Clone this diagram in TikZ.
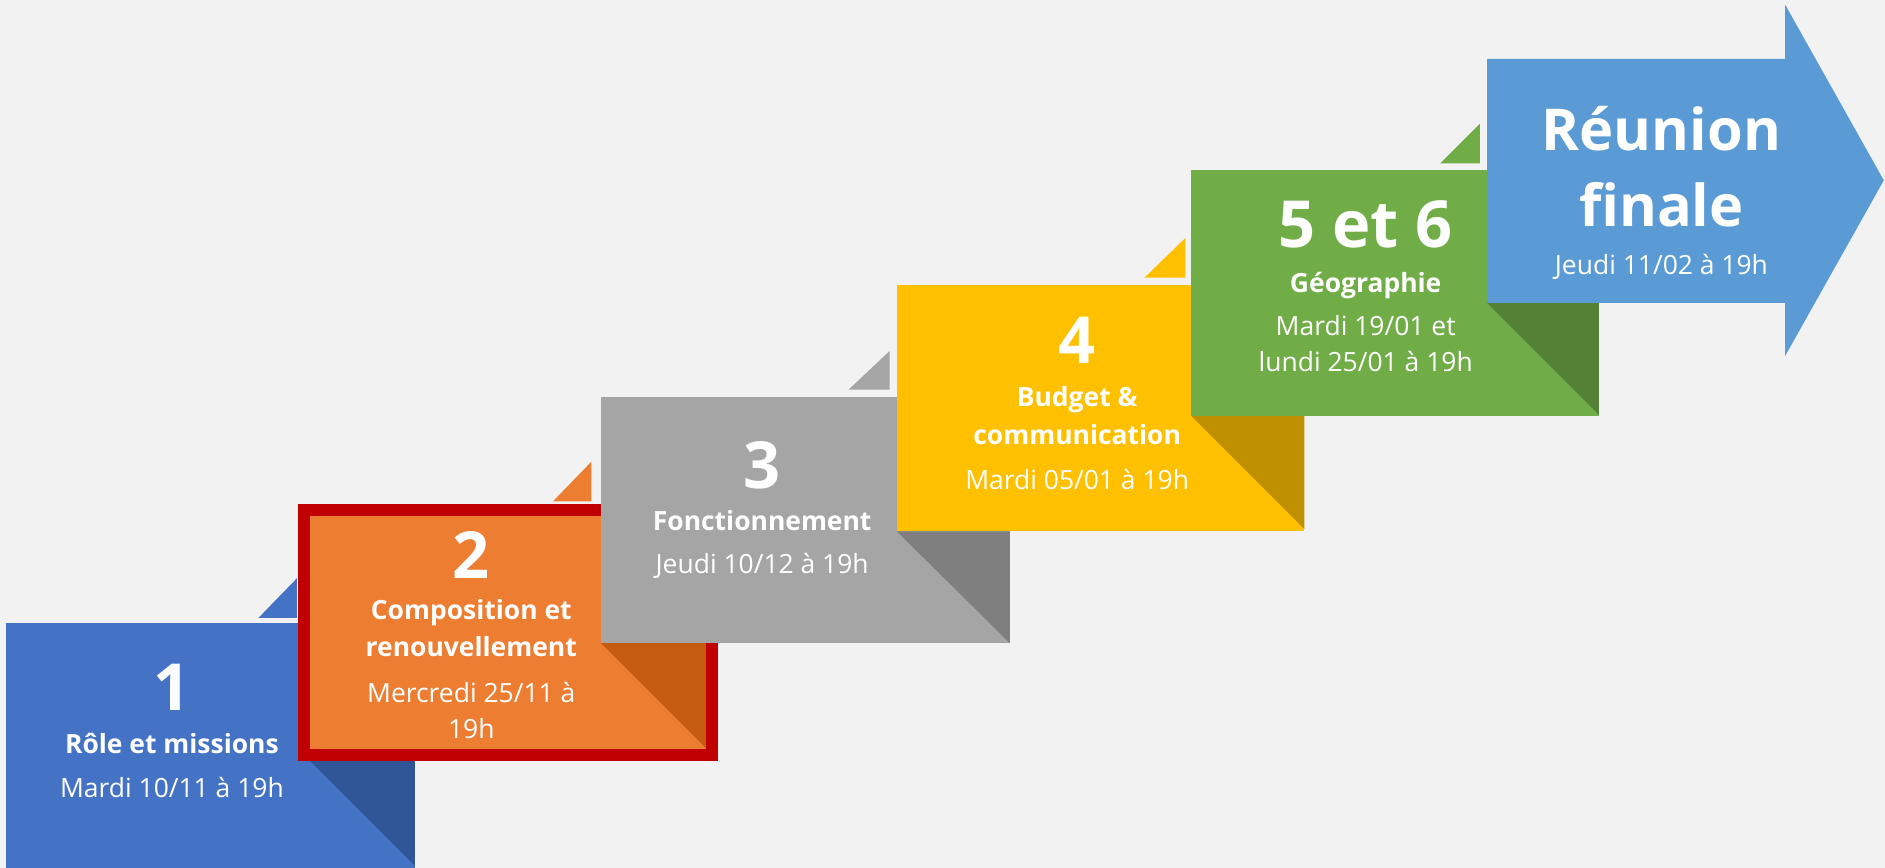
\documentclass[tikz,border=0pt]{standalone}
\usepackage{fontspec}
\setmainfont{Open Sans}
\definecolor{backg}{HTML}{F2F2F2}
\definecolor{sblue}{HTML}{4472C4}
\definecolor{sbluedk}{HTML}{2F5597}
\definecolor{sorange}{HTML}{ED7D31}
\definecolor{sorangedk}{HTML}{C55A11}
\definecolor{sgray}{HTML}{A5A5A5}
\definecolor{sgraydk}{HTML}{7F7F7F}
\definecolor{syellow}{HTML}{FFC000}
\definecolor{syellowdk}{HTML}{BF9000}
\definecolor{sgreen}{HTML}{70AD47}
\definecolor{sgreendk}{HTML}{538135}
\definecolor{sarrow}{HTML}{5B9BD5}
\definecolor{sred}{HTML}{C00000}

\begin{document}
\begin{tikzpicture}[
	x=1pt,
	y=-1pt,
	num/.style={
		anchor=base,
		inner sep=0pt,
		text=white,
		font=\bfseries\fontsize{54}{60}\selectfont
	},
	ttl/.style={
		anchor=base,
		inner sep=0pt,
		text=white,
		font=\bfseries\fontsize{22}{26}\selectfont
	},
	dte/.style={
		anchor=base,
		inner sep=0pt,
		text=white,
		font=\fontsize{22}{26}\selectfont
	},
	big/.style={
		anchor=base,
		inner sep=0pt,
		text=white,
		font=\bfseries\fontsize{48}{54}\selectfont
	}]

	\useasboundingbox (0,0) rectangle (1568,722);
	\fill[backg] (0,0) rectangle (1568,722);

	% step 1
	\fill[sblue] (5,518) rectangle (345,722);
	\fill[sbluedk] (253,628) -- (345,628) -- (345,720) -- cycle;
	\fill[sblue] (215,514) -- (247,514) -- (247,481) -- cycle;
	% step 2
	\fill[sorange] (253,424) rectangle (592,628);
	\fill[sorangedk] (500,535) -- (592,535) -- (592,627) -- cycle;
	\draw[sred, line width=10pt] (253,424) rectangle (592,628);
	\fill[sorange] (460,417) -- (492,417) -- (492,384) -- cycle;
	% step 3
	\fill[sgray] (500,330) rectangle (840,535);
	\fill[sgraydk] (746,442) -- (840,442) -- (840,535) -- cycle;
	\fill[sgray] (706,324) -- (740,324) -- (740,292) -- cycle;
	% step 4
	\fill[syellow] (746,237) rectangle (1085,442);
	\fill[syellowdk] (991,346) -- (1085,346) -- (1085,440) -- cycle;
	\fill[syellow] (952,231) -- (986,231) -- (986,198) -- cycle;
	% step 5
	\fill[sgreen] (991,141) rectangle (1330,346);
	\fill[sgreendk] (1237,252) -- (1330,252) -- (1330,345) -- cycle;
	\fill[sgreen] (1198,136) -- (1231,136) -- (1231,103) -- cycle;
	% final arrow
	\fill[sarrow] (1237,49) -- (1485,49) -- (1485,4) -- (1567,150)
		-- (1485,296) -- (1485,252) -- (1237,252) -- cycle;

	\node[num] (num_1) at (143,591) {1};
	\node[ttl] (ttl_1) at (143,627) {Rôle et missions};
	\node[dte] (dte_1) at (143,663) {Mardi 10/11 à 19h};

	\node[num] (num_2) at (392,481) {2};
	\node[ttl] (ttl_2a) at (392,515) {Composition et};
	\node[ttl] (ttl_2b) at (392,546) {renouvellement};
	\node[dte] (dte_2a) at (392,584) {Mercredi 25/11 à};
	\node[dte] (dte_2b) at (392,614) {19h};

	\node[num] (num_3) at (634,406) {3};
	\node[ttl] (ttl_3) at (634,441) {Fonctionnement};
	\node[dte] (dte_3) at (634,477) {Jeudi 10/12 à 19h};

	\node[num] (num_4) at (896,302) {4};
	\node[ttl] (ttl_4a) at (896,338) {Budget \&};
	\node[ttl] (ttl_4b) at (896,370) {communication};
	\node[dte] (dte_4) at (896,407) {Mardi 05/01 à 19h};

	\node[num] (num_5) at (1136,206) {5 et 6};
	\node[ttl] (ttl_5) at (1136,243) {Géographie};
	\node[dte] (dte_5a) at (1136,279) {Mardi 19/01 et};
	\node[dte] (dte_5b) at (1136,309) {lundi 25/01 à 19h};

	\node[big] (big_6a) at (1382,125) {Réunion};
	\node[big] (big_6b) at (1382,188) {finale};
	\node[dte] (dte_6) at (1382,228) {Jeudi 11/02 à 19h};
\end{tikzpicture}
\end{document}
